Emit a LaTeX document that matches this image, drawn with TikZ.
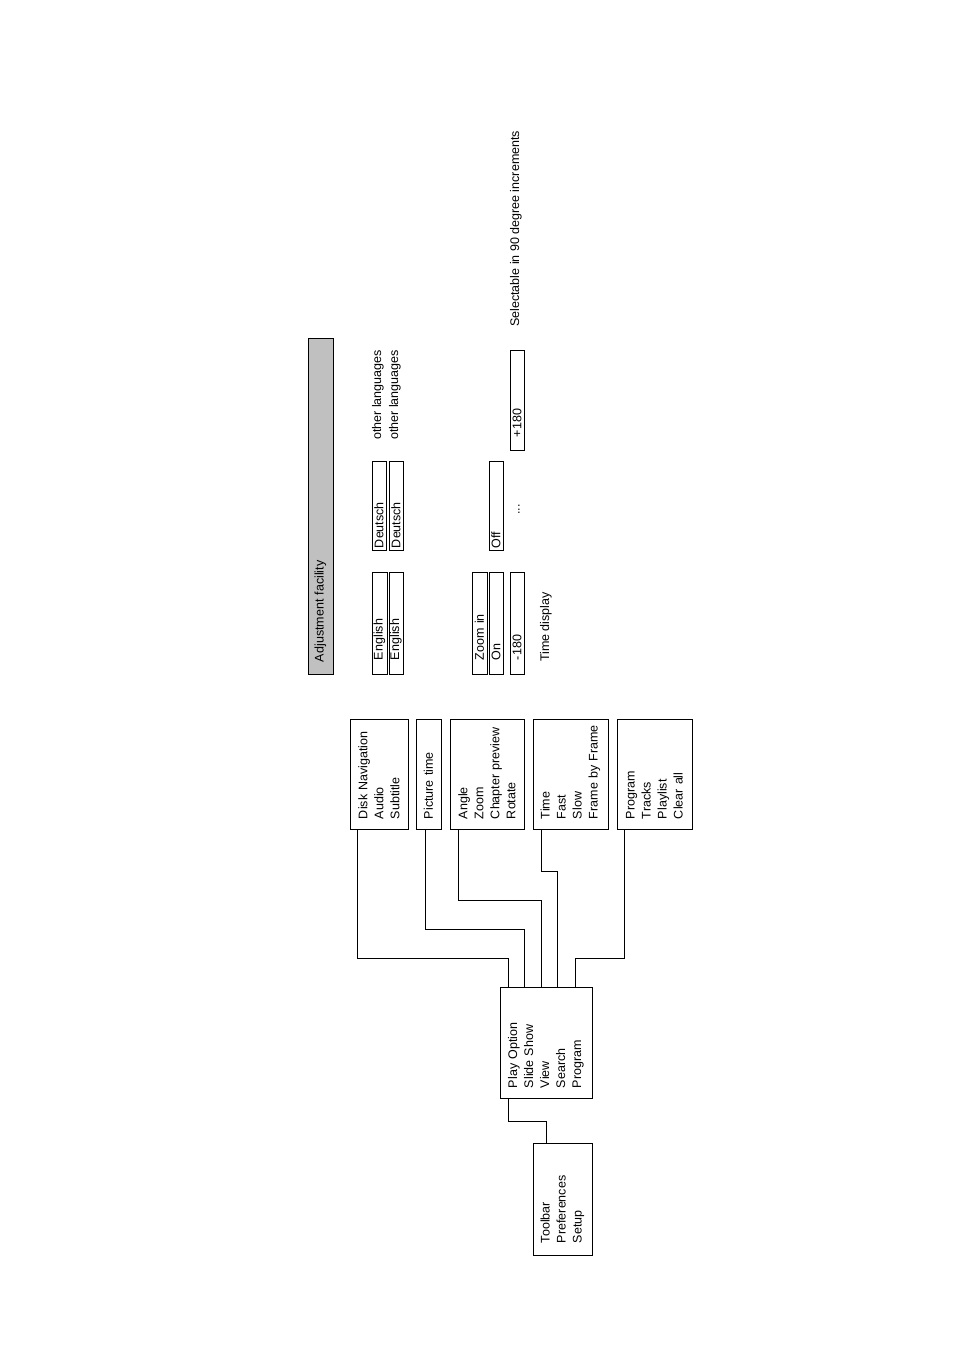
\documentclass[tikz,border=0pt]{standalone}
\usepackage{fontspec}
\setmainfont{Liberation Sans}
\usepackage{tikz}
\usetikzlibrary{calc}
\definecolor{headgray}{RGB}{192,192,192}
\newcommand{\menufont}{\fontsize{12.5}{16}\selectfont}

\begin{document}
\begin{tikzpicture}[
    x=1pt, y=-1pt,
    menu/.style={rectangle, draw, line width=0.9pt, rotate=90, align=left, inner ysep=0pt, inner xsep=10pt, text width=90pt, font=\menufont},
    cell/.style={rectangle, draw, line width=0.9pt, rotate=90, align=left, inner ysep=0pt, inner xsep=14pt, text width=74pt, minimum height=15pt, font=\menufont},
    note/.style={rotate=90, anchor=west, inner sep=0pt, font=\menufont},
    link/.style={line width=0.9pt}
]
\useasboundingbox (0,0) rectangle (954,1350);

% Root menu
\node[menu, text width=88pt, inner xsep=12pt, minimum height=59pt] (tool) at (562.5,1199) {Toolbar\\Preferences\\Setup};

% Toolbar entries
\node[menu, text width=91pt, minimum height=92pt] (play) at (546,1042.5) {Play Option\\Slide Show\\View\\Search\\Program};

% Submenus
\node[menu, minimum height=58pt] (disk) at (379,774) {Disk Navigation\\Audio\\Subtitle};
\node[menu, minimum height=25pt] (pic) at (428.5,774) {Picture time};
\node[menu, minimum height=74pt] (view) at (487,774) {Angle\\Zoom\\\mbox{Chapter preview}\\Rotate};
\node[menu, minimum height=75pt] (search) at (570.5,774) {Time\\Fast\\Slow\\\mbox{Frame by Frame}};
\node[menu, minimum height=75pt] (prog) at (654.5,774) {Program\\Tracks\\Playlist\\Clear all};

% Adjustment facility
\node[cell, fill=headgray, text width=312pt, inner xsep=12pt, minimum height=25pt] (adj) at (320.5,506) {Adjustment facility};

% Languages
\node[cell] (en1) at (379.5,623) {English};
\node[cell, minimum height=14pt] (en2) at (396,623) {English};
\node[cell, text width=85pt, inner xsep=2pt, minimum height=14pt] (de1) at (379,505.5) {Deutsch};
\node[cell, text width=85pt, inner xsep=2pt, minimum height=14pt] (de2) at (396,505.5) {Deutsch};
\node[note] (oth1) at (378,440) {other languages};
\node[note] (oth2) at (395,440) {other languages};

% Zoom and rotation
\node[cell] (zin) at (479.5,623) {Zoom in};
\node[cell, minimum height=14pt] (on) at (496,623) {On};
\node[cell, text width=85pt, inner xsep=2pt, minimum height=14pt] (off) at (496,505.5) {Off};
\node[cell, minimum height=14pt] (m180) at (517,623) {-180};
\node[cell, text width=74pt, inner xsep=13pt, minimum height=14pt] (p180) at (517,400) {+180};
\node[note] (dots) at (519,515) {...};
\node[note] (sel) at (516,327) {Selectable in 90 degree increments};
\node[note] (tdisp) at (546,662) {Time display};

% Links
\draw[link] ($(disk.north west)+(8,0)$) -- ++(0,129) -| ($(play.north east)+(9,0)$);
\draw[link] ($(pic.north west)+(10,0)$) -- ++(0,100) -| ($(play.north east)+(25,0)$);
\draw[link] ($(view.north west)+(9,0)$) -- ++(0,71) -| ($(play.north east)+(42,0)$);
\draw[link] ($(search.north west)+(9,0)$) -- ++(0,42) -| ($(play.north east)+(58,0)$);
\draw[link] ($(prog.north west)+(8,0)$) -- ++(0,129) -| ($(play.north east)+(76,0)$);
\draw[link] ($(play.north west)+(9,0)$) -- ++(0,23) -| ($(tool.north east)+(14,0)$);

\end{tikzpicture}
\end{document}
